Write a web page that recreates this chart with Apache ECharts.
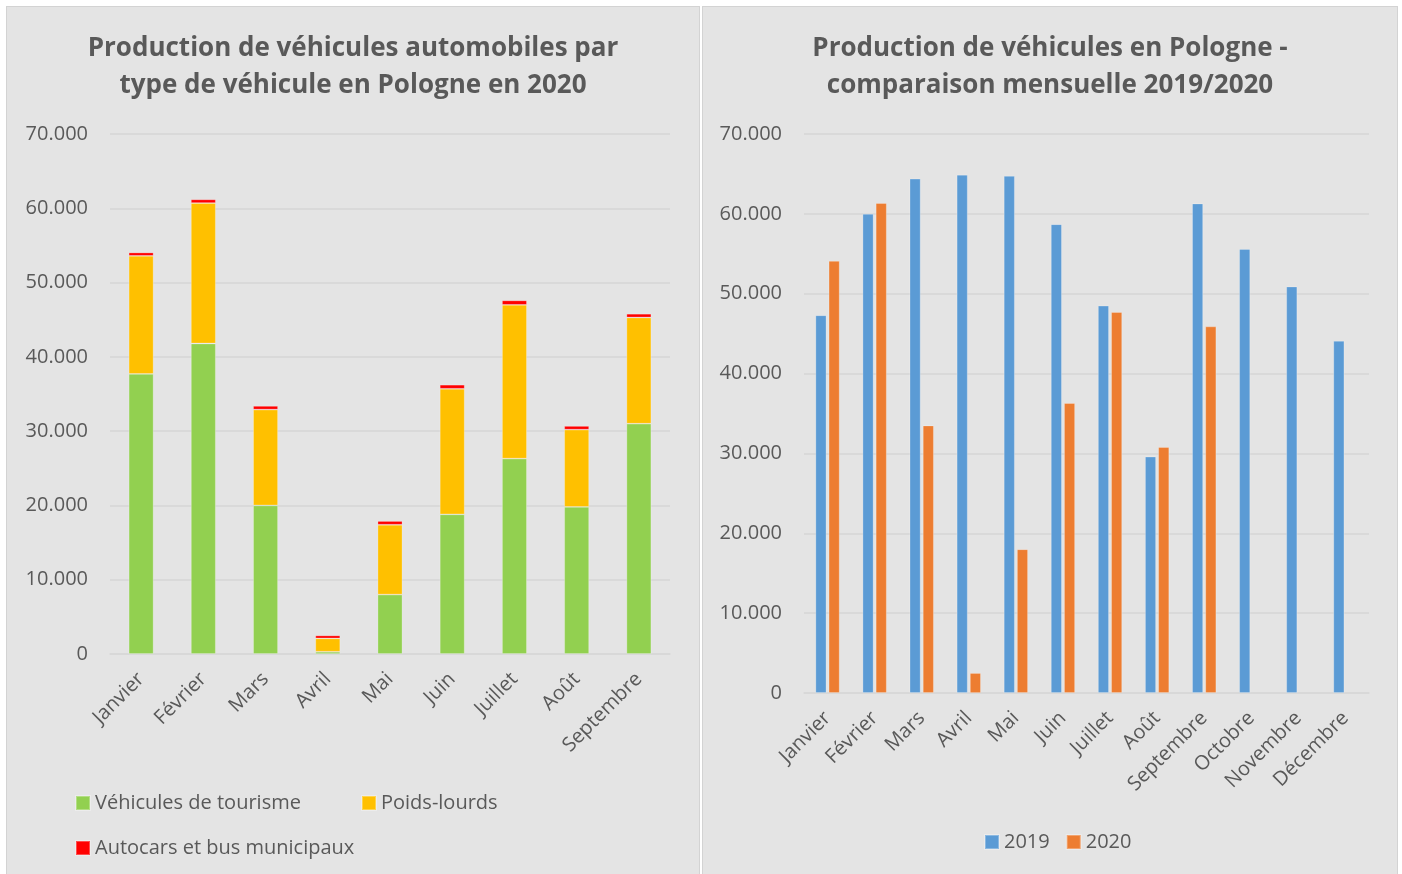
<!DOCTYPE html>
<html>
<head>
<meta charset="utf-8">
<script src="https://cdn.jsdelivr.net/npm/echarts@6/dist/echarts.min.js"></script>
<style>
  html, body { margin: 0; padding: 0; background: #ffffff; width: 1402px; height: 874px; overflow: hidden; }
  .panel { position: absolute; top: 6px; height: 880px; background: #e4e4e4; border: 1px solid #d3d3d3; box-sizing: border-box; }
  #left { left: 6px; width: 694px; }
  #right { left: 702px; width: 696px; }
</style>
</head>
<body>
<div id="left" class="panel"></div>
<div id="right" class="panel"></div>
<script>
// ---- Data ----
const monthsLeft = ['Janvier', 'Février', 'Mars', 'Avril', 'Mai', 'Juin', 'Juillet', 'Août', 'Septembre'];
const tourisme = [37700, 41800, 20000, 300, 8000, 18800, 26300, 19800, 31000];
const poidsLourds = [15900, 18900, 12900, 1800, 9400, 16900, 20700, 10400, 14300];
const autocars = [450, 500, 500, 400, 500, 550, 600, 500, 500];

const monthsRight = ['Janvier', 'Février', 'Mars', 'Avril', 'Mai', 'Juin', 'Juillet', 'Août', 'Septembre', 'Octobre', 'Novembre', 'Décembre'];
const prod2019 = [47300, 60000, 64400, 64900, 64750, 58700, 48500, 29600, 61300, 55600, 50900, 44100];
const prod2020 = [54100, 61350, 33500, 2500, 18000, 36300, 47700, 30800, 45900, null, null, null];

const yTicks = { min: 0, max: 70000, interval: 10000 };

// ---- Styles ----
const FONT = 'Open Sans';
const TXT = '#595959';
const GRID = '#d6d6d6';

function fmt(v) {
  if (v === 0) return '0';
  return String(v).replace(/\B(?=(\d{3})+(?!\d))/g, '.');
}

function yAxis() {
  return {
    type: 'value', min: yTicks.min, max: yTicks.max, interval: yTicks.interval,
    axisLine: { show: false }, axisTick: { show: false },
    axisLabel: { formatter: fmt, color: TXT, fontFamily: FONT, fontSize: 20, margin: 22 },
    splitLine: { lineStyle: { color: GRID, width: 1.5 } }
  };
}
function xAxis(cats) {
  return {
    type: 'category', data: cats,
    axisLine: { lineStyle: { color: GRID, width: 1.5 } },
    axisTick: { show: false },
    axisLabel: { rotate: 45, color: TXT, fontFamily: FONT, fontSize: 20, margin: 22, interval: 0 }
  };
}
const titleStyle = { color: TXT, fontFamily: FONT, fontSize: 26, fontWeight: 'bold', lineHeight: 37 };
const barBorder = { borderColor: 'rgba(255,255,255,0.3)', borderWidth: 0.8 };
const legendText = { color: TXT, fontFamily: FONT, fontSize: 20 };

// ---- Left chart ----
const left = echarts.init(document.getElementById('left'), null, { renderer: 'canvas' });
left.setOption({
  animation: false,
  title: {
    text: 'Production de véhicules automobiles par\ntype de véhicule en Pologne en 2020',
    left: 'center', top: 18, textStyle: titleStyle
  },
  grid: { left: 103, top: 127, width: 560, height: 520, containLabel: false },
  xAxis: xAxis(monthsLeft),
  yAxis: yAxis(),
  legend: [
    { data: ['Véhicules de tourisme'], left: 63, top: 781, itemWidth: 14, itemHeight: 14, icon: 'rect', textStyle: legendText },
    { data: ['Poids-lourds'], left: 349, top: 781, itemWidth: 14, itemHeight: 14, icon: 'rect', textStyle: legendText },
    { data: ['Autocars et bus municipaux'], left: 63, top: 826, itemWidth: 14, itemHeight: 14, icon: 'rect', textStyle: legendText }
  ],
  series: [
    { name: 'Véhicules de tourisme', type: 'bar', stack: 'a', data: tourisme, barWidth: '40%', itemStyle: Object.assign({ color: '#92d050' }, barBorder) },
    { name: 'Poids-lourds', type: 'bar', stack: 'a', data: poidsLourds, barWidth: '40%', itemStyle: Object.assign({ color: '#ffc000' }, barBorder) },
    { name: 'Autocars et bus municipaux', type: 'bar', stack: 'a', data: autocars, barWidth: '40%', itemStyle: Object.assign({ color: '#ff0000' }, barBorder) }
  ]
});

// ---- Right chart ----
const right = echarts.init(document.getElementById('right'), null, { renderer: 'canvas' });
right.setOption({
  animation: false,
  title: {
    text: 'Production de véhicules en Pologne -\ncomparaison mensuelle 2019/2020',
    left: 'center', top: 18, textStyle: titleStyle
  },
  grid: { left: 101, top: 127, width: 565, height: 559, containLabel: false },
  xAxis: xAxis(monthsRight),
  yAxis: yAxis(),
  legend: {
    data: ['2019', '2020'], left: 276, top: 820,
    itemWidth: 14, itemHeight: 14, itemGap: 16, icon: 'rect',
    textStyle: legendText
  },
  series: [
    { name: '2019', type: 'bar', data: prod2019, barWidth: 11, barGap: '20%', itemStyle: Object.assign({ color: '#5b9bd5' }, barBorder) },
    { name: '2020', type: 'bar', data: prod2020, barWidth: 11, barGap: '20%', itemStyle: Object.assign({ color: '#ed7d31' }, barBorder) }
  ]
});
</script>
</body>
</html>
